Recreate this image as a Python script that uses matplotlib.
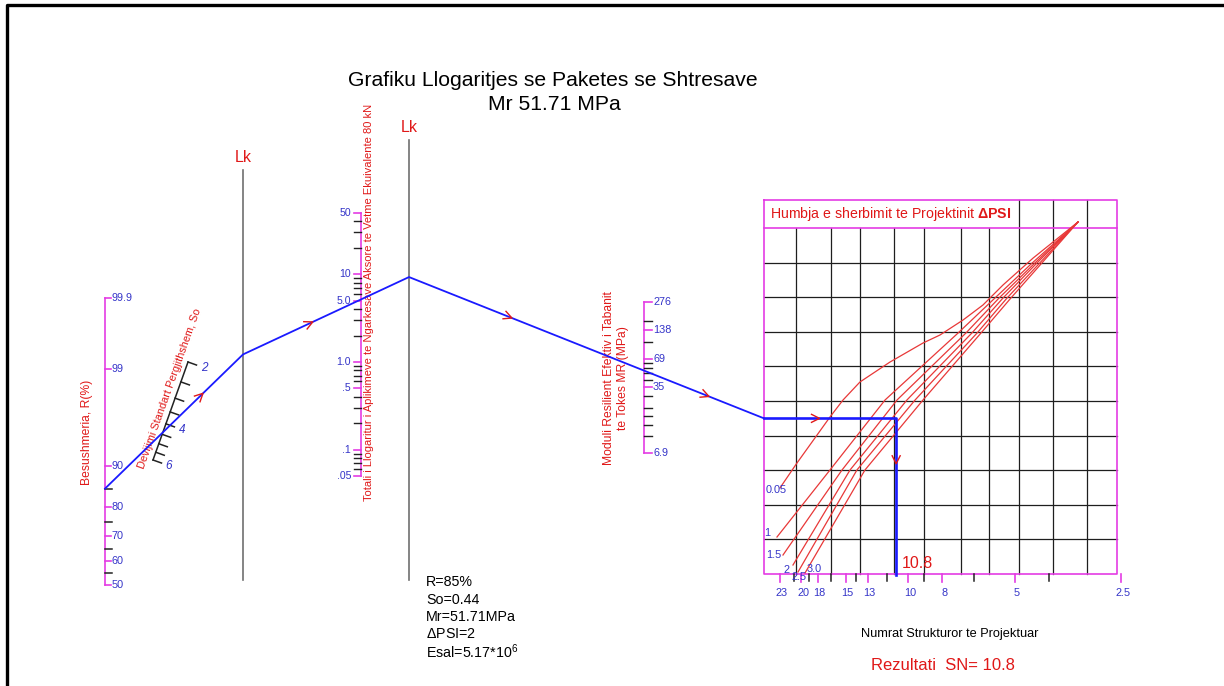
import numpy as np
import matplotlib.pyplot as plt
from statistics import NormalDist

plt.rcParams["font.family"] = ["Liberation Sans", "DejaVu Sans"]
plt.rcParams["mathtext.fontset"] = "custom"
plt.rcParams["mathtext.rm"] = "Liberation Sans"
plt.rcParams["mathtext.bf"] = "Liberation Sans:bold"

# design inputs
R_PCT = 85          # reliability, %
SO = 0.44           # overall standard deviation
ESAL = 5.17         # millions of 80 kN ESAL
MR = 51.71          # subgrade resilient modulus, MPa
DPSI = 2            # design serviceability loss
SN = 10.8           # resulting structural number

# reliability scale
r_major = [99.9, 99, 90, 80, 70, 60, 50]
r_minor = [85, 75, 65, 55]

# standard deviation scale (tenths)
so_major = [2, 4, 6]
so_minor = [2.5, 3, 3.5, 4.5, 5, 5.5]

# ESAL scale (millions)
esal_major = [50, 10, 5.0, 1.0, 0.5, 0.1, 0.05]
esal_major_txt = ["50", "10", "5.0", "1.0", ".5", ".1", ".05"]
esal_minor = [40, 30, 20, 9, 8, 7, 6, 4, 3, 2, 0.9, 0.8, 0.7, 0.6, 0.4, 0.3,
              0.2, 0.09, 0.08, 0.07, 0.06]

# subgrade modulus (MPa); minor ticks sit on round psi values
mr_major = [276, 138, 69, 35, 6.9]
mr_major_txt = ["276", "138", "69", "35", "6.9"]
mr_minor_psi = [25000, 15000, 9000, 8000, 7000, 6000, 4000, 3000, 2500, 2000, 1500]

# structural number axis
sn_major = [23, 20, 18, 15, 13, 10, 8, 5, 2.5]
sn_major_txt = ["23", "20", "18", "15", "13", "10", "8", "5", "2.5"]
sn_minor = [21, 19, 16.5, 14, 11.5, 9, 6.5, 4]

# serviceability loss curves: SN along the curve vs grid row (0 = bottom)
dpsi_txt = ["0.05", "1", "1.5", "2", "2.5", "3.0"]
curve_sn = [
    [23.0, 20.59, 16.61, 15.26, 13.67, 11.24, 9.07, 8.12, 6.99, 6.14, 5.39, 4.43, 3.31],
    [23.45, 16.61, 11.61, 7.22, 5.68, 4.49, 3.31],
    [22.55, 15.36, 10.74, 6.86, 5.53, 4.41, 3.31],
    [21.13, 14.58, 10.07, 6.60, 5.39, 4.35, 3.31],
    [20.45, 13.94, 9.55, 6.38, 5.25, 4.27, 3.31],
    [19.54, 13.23, 9.07, 6.22, 5.12, 4.21, 3.31],
]
curve_row = [
    [2.486, 3.208, 4.538, 5.029, 5.549, 6.127, 6.676, 6.908, 7.341, 7.775, 8.353,
     9.133, 10.173],
    [1.069, 3.006, 5.029, 6.965, 7.977, 8.960, 10.173],
    [0.549, 3.006, 5.029, 6.965, 7.977, 8.960, 10.173],
    [0.260, 3.006, 5.029, 6.965, 7.977, 8.960, 10.173],
    [0.058, 3.006, 5.029, 6.965, 7.977, 8.960, 10.173],
    [0.029, 3.006, 5.029, 6.965, 7.977, 8.960, 10.173],
]

MAGENTA = "#e43ce4"
BLUE_TXT = "#3434c8"
RED = "#e01818"
PATH = "#1a1aff"

fig = plt.figure(figsize=(12.24, 6.86), dpi=100)
ax = fig.add_axes([0, 0, 1, 1])
ax.set_xlim(0, 1224)
ax.set_ylim(686, 0)
ax.axis("off")


# ---- scale functions (page coordinates) ----
R_X = 105
def r_y(p):
    return 585 - 93.0 * NormalDist().inv_cdf(p / 100)

SO_TOP, SO_BOT = np.array([188.0, 362.0]), np.array([153.0, 460.0])
def so_xy(v):
    t = (np.log10(v) - np.log10(2)) / (np.log10(6) - np.log10(2))
    return SO_TOP + t * (SO_BOT - SO_TOP)

ESAL_X = 361
def esal_y(v):
    return 213 + (np.log10(50) - np.log10(v)) * 87.7

MR_X = 644
def mr_y(v):
    return 302 + (np.log10(276) - np.log10(v)) * 94.3

def sn_x(v):
    return 908 + (1 - np.log10(v)) * 354.0

BOX_L, BOX_R, BOX_T, BOX_B = 764, 1117, 200, 574
HEAD_B = 228
def row_y(r):
    return BOX_B - r * (BOX_B - HEAD_B) / 10


def at_x(p, q, x):
    return p[1] + (q[1] - p[1]) * (x - p[0]) / (q[0] - p[0])


def chevron(p, q, frac, size=8, half=4):
    p, q = np.asarray(p, float), np.asarray(q, float)
    d = (q - p) / np.hypot(*(q - p))
    n = np.array([-d[1], d[0]])
    tip = p + frac * (q - p)
    back = tip - size * d
    ax.plot([back[0] + half * n[0], tip[0], back[0] - half * n[0]],
            [back[1] + half * n[1], tip[1], back[1] - half * n[1]],
            color=RED, lw=1.0, zorder=6)


# page frame
ax.plot([7, 7, 1224], [686, 5, 5], color="black", lw=2.4, solid_capstyle="projecting")

# title
ax.text(553, 80, "Grafiku Llogaritjes se Paketes se Shtresave", ha="center", va="center",
        fontsize=15.2)
ax.text(554, 104, f"Mr {MR} MPa", ha="center", va="center", fontsize=15.2)

# pivot lines
LK1_X, LK2_X = 243, 409
ax.plot([LK1_X, LK1_X], [170, 580], color="#707070", lw=1.2)
ax.plot([LK2_X, LK2_X], [140, 580], color="#707070", lw=1.2)
ax.text(LK1_X, 157, "Lk", color=RED, ha="center", va="center", fontsize=11.5)
ax.text(LK2_X, 127, "Lk", color=RED, ha="center", va="center", fontsize=11.5)

# reliability scale
ax.plot([R_X, R_X], [r_y(99.9), r_y(50)], color=MAGENTA, lw=1.2)
for v in r_major:
    ax.plot([R_X, R_X + 6], [r_y(v)] * 2, color=MAGENTA, lw=1.2)
    ax.text(R_X + 7, r_y(v), f"{v:g}", color=BLUE_TXT, va="center", ha="left", fontsize=7.8)
for v in r_minor:
    ax.plot([R_X, R_X + 7], [r_y(v)] * 2, color="#222222", lw=1.1)
ax.text(87, 432, "Besushmeria, R(%)", rotation=90, color=RED, ha="center", va="center",
        fontsize=8.7)

# standard deviation scale
u = (SO_BOT - SO_TOP) / np.hypot(*(SO_BOT - SO_TOP))
nrm = np.array([-u[1], u[0]])
if nrm[0] < 0:
    nrm = -nrm
ax.plot([SO_TOP[0], SO_BOT[0]], [SO_TOP[1], SO_BOT[1]], color="#222222", lw=1.1)
for v in so_major + so_minor:
    a = so_xy(v)
    b = a + 9 * nrm
    ax.plot([a[0], b[0]], [a[1], b[1]], color="#222222", lw=1.1)
for v in so_major:
    a = so_xy(v) + 17 * nrm
    ax.text(a[0], a[1], f"{v}", color=BLUE_TXT, style="italic", ha="center", va="center",
            fontsize=8.5)
ang = np.degrees(np.arctan2(SO_BOT[1] - SO_TOP[1], SO_TOP[0] - SO_BOT[0]))
ax.text(170, 389, "Devijimi Standart Pergjithshem, So", rotation=ang, color=RED,
        ha="center", va="center", fontsize=7.8, rotation_mode="anchor")

# ESAL scale
ax.plot([ESAL_X, ESAL_X], [esal_y(50), esal_y(0.05)], color=MAGENTA, lw=1.2)
for v, t in zip(esal_major, esal_major_txt):
    ax.plot([ESAL_X - 7, ESAL_X], [esal_y(v)] * 2, color=MAGENTA, lw=1.2)
    ax.text(ESAL_X - 10, esal_y(v), t, color=BLUE_TXT, ha="right", va="center", fontsize=7.6)
for v in esal_minor:
    ax.plot([ESAL_X - 7, ESAL_X], [esal_y(v)] * 2, color="#222222", lw=1.0)
ax.text(369, 302, "Totali i Llogaritur i Aplikimeve te Ngarkesave Aksore te Vetme "
        "Ekuivalente 80 kN", rotation=90, color=RED, ha="center", va="center", fontsize=8.0)

# subgrade modulus scale
ax.plot([MR_X, MR_X], [mr_y(276), mr_y(6.9)], color=MAGENTA, lw=1.2)
for v, t in zip(mr_major, mr_major_txt):
    ax.plot([MR_X, MR_X + 8], [mr_y(v)] * 2, color=MAGENTA, lw=1.2)
    ax.text(MR_X + 9, mr_y(v), t, color=BLUE_TXT, ha="left", va="center", fontsize=7.8)
for psi in mr_minor_psi:
    y = mr_y(psi * 0.0068948)
    ax.plot([MR_X, MR_X + 8], [y, y], color="#222222", lw=1.0)
ax.text(616, 378, "Moduli Resilient Efektiv i Tabanit\nte Tokes MR (MPa)", rotation=90,
        color=RED, ha="center", va="center", fontsize=8.7, linespacing=1.2,
        multialignment="center")

# design chart box
col_frac = [0.0907, 0.190, 0.272, 0.368, 0.453, 0.558, 0.637, 0.722, 0.819, 0.915]
for f in col_frac:
    x = BOX_L + f * (BOX_R - BOX_L)
    ax.plot([x, x], [BOX_T if x > 1015 else HEAD_B, BOX_B], color="#1e1e1e", lw=0.9)
for r in range(1, 10):
    ax.plot([BOX_L, BOX_R], [row_y(r)] * 2, color="#1e1e1e", lw=0.9)
ax.plot([BOX_L, BOX_R, BOX_R, BOX_L, BOX_L], [BOX_T, BOX_T, BOX_B, BOX_B, BOX_T],
        color=MAGENTA, lw=1.2)
ax.plot([BOX_L, BOX_R], [HEAD_B, HEAD_B], color=MAGENTA, lw=1.2)
ax.text(770, 214, r"Humbja e sherbimit te Projektinit $\mathbf{\Delta PSI}$", color=RED,
        ha="left", va="center", fontsize=10.2)

for s, r in zip(curve_sn, curve_row):
    ax.plot(sn_x(np.array(s)), row_y(np.array(r)), color="#e83838", lw=0.9)
curve_lbl_pos = [(766, 490), (764, 533), (766, 555), (783, 570), (791, 577), (807, 569)]
for t, (x, y) in zip(dpsi_txt, curve_lbl_pos):
    ax.text(x, y, t, color=BLUE_TXT, ha="left", va="center", fontsize=7.8)

# structural number axis
for v, t in zip(sn_major, sn_major_txt):
    ax.plot([sn_x(v)] * 2, [BOX_B, BOX_B + 8], color=MAGENTA, lw=1.2)
    ax.text(sn_x(v) + 2, 593, t, color=BLUE_TXT, ha="center", va="center", fontsize=7.8)
for v in sn_minor:
    ax.plot([sn_x(v)] * 2, [BOX_B, BOX_B + 7], color="#222222", lw=1.1)
ax.text(950, 634, "Numrat Strukturor te Projektuar", ha="center", va="center", fontsize=9.2)
ax.text(871, 666, f"Rezultati  SN= {SN}", color=RED, ha="left", va="center", fontsize=12)

# solution path through the nomograph
p0 = np.array([R_X, r_y(R_PCT)])
ps = so_xy(SO * 10)
p1 = np.array([LK1_X, at_x(p0, ps, LK1_X)])
pe = np.array([ESAL_X, esal_y(ESAL)])
p2 = np.array([LK2_X, at_x(p1, pe, LK2_X)])
pm = np.array([MR_X, mr_y(MR)])
p3 = np.array([BOX_L, at_x(p2, pm, BOX_L)])
p4 = np.array([sn_x(SN), p3[1]])
p5 = np.array([sn_x(SN), BOX_B + 1])

ax.plot([p0[0], p1[0], p2[0], p3[0]], [p0[1], p1[1], p2[1], p3[1]], color=PATH, lw=1.3,
        zorder=5)
ax.plot([p3[0], p4[0], p5[0]], [p3[1], p4[1], p5[1]], color=PATH, lw=1.9, zorder=5)

chevron(p0, p1, 0.71)
chevron(p1, p2, 0.42)
chevron(p2, p3, 0.29)
chevron(p2, p3, 0.845)
chevron(p3, p4, 0.42)
chevron(p4, p5, 0.29)

ax.text(p5[0] + 6, 563, f"{SN}", color=RED, ha="left", va="center", fontsize=11.5)

# design summary
summary = ["R=85%", "So=0.44", "Mr=51.71MPa", r"$\Delta$PSI=2", r"Esal=5.17*10$^6$"]
for i, line in enumerate(summary):
    ax.text(426, 582 + i * 17.5, line, ha="left", va="center", fontsize=10.3)

fig.savefig("out.png", dpi=100)
